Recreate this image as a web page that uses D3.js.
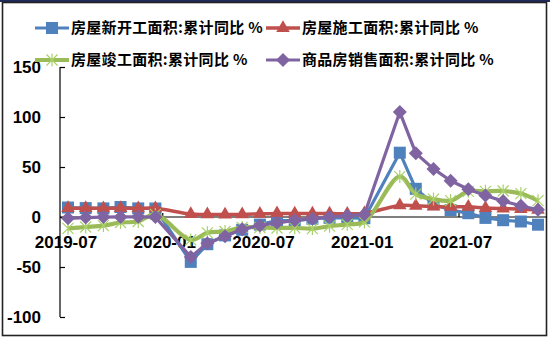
<!DOCTYPE html>
<html>
<head>
<meta charset="utf-8">
<script src="https://cdn.jsdelivr.net/npm/d3@7"></script>
<style>
  body { margin: 0; background: #fff; }
  svg { display: block; }
</style>
</head>
<body>
<svg id="chart" width="550" height="339"></svg>
<script>
// months (January is not published, data is Jan-Feb combined)
var months = ["2019-07", "2019-08", "2019-09", "2019-10", "2019-11", "2019-12",
  "2020-02", "2020-03", "2020-04", "2020-05", "2020-06", "2020-07", "2020-08",
  "2020-09", "2020-10", "2020-11", "2020-12",
  "2021-02", "2021-03", "2021-04", "2021-05", "2021-06", "2021-07", "2021-08",
  "2021-09", "2021-10"];

var newStarts = [9.5, 8.9, 8.6, 10.0, 8.6, 8.5,
  -44.9, -27.2, -18.4, -12.8, -7.6, -3.6, -3.6, -1.7, -0.8, -1.0, -1.2,
  64.3, 28.2, 12.8, 6.9, 3.8, -0.9, -3.2, -4.5, -7.7];
var underConstruction = [8.8, 8.8, 8.7, 9.0, 8.7, 8.7,
  2.9, 2.6, 2.5, 2.6, 3.1, 3.6, 3.4, 3.5, 3.3, 3.2, 3.7,
  11.6, 11.2, 10.5, 10.1, 10.2, 9.0, 8.4, 7.9, 7.1];
var completed = [-11.3, -10.0, -8.6, -5.5, -4.5, 2.6,
  -22.9, -15.8, -14.5, -10.3, -10.5, -11.0, -10.8, -11.6, -9.2, -7.3, -4.9,
  40.4, 22.9, 17.9, 16.4, 25.7, 25.7, 26.0, 23.4, 16.3];
var sales = [-1.3, -0.6, -0.1, 0.1, 0.2, -0.1,
  -39.9, -26.3, -19.3, -12.3, -8.4, -5.8, -3.3, -1.8, 0.0, 1.3, 2.6,
  104.9, 63.8, 48.1, 36.3, 27.7, 21.5, 15.9, 11.3, 7.2];

var seriesNames = ["房屋新开工面积:累计同比 %", "房屋施工面积:累计同比 %",
  "房屋竣工面积:累计同比 %", "商品房销售面积:累计同比 %"];
var xTickLabels = ["2019-07", "2020-01", "2020-07", "2021-01", "2021-07"];
var yTicks = [-100, -50, 0, 50, 100, 150];

var svg = d3.select("#chart");
var parse = d3.timeParse("%Y-%m");

// outer frame
svg.append("rect").attr("x", 0).attr("y", 0).attr("width", 550).attr("height", 2)
  .attr("fill", "#1f2a5a");
svg.append("rect").attr("x", 2.5).attr("y", 2.5).attr("width", 544).attr("height", 333)
  .attr("fill", "none").attr("stroke", "#222").attr("stroke-width", 1.6);

var x = d3.scaleTime()
  .domain([parse("2019-07"), parse("2021-10")])
  .range([68, 538]);
var y = d3.scaleLinear().domain([-100, 150]).range([317, 67]);
var xLabel = d3.scalePoint().domain(xTickLabels).range([66, 461]);

// y axis
var yAxis = svg.append("g").attr("transform", "translate(60,0)")
  .call(d3.axisRight(y).tickValues(yTicks).tickSize(5).tickFormat(""));
yAxis.select(".domain").attr("d", "M0," + y(150) + "V" + y(-100));
yAxis.selectAll("line, path").attr("stroke", "#000").attr("stroke-width", 1.2);

svg.append("g").selectAll("text").data(yTicks).join("text")
  .attr("x", 41).attr("y", function (d) { return y(d); })
  .attr("dy", "0.36em")
  .attr("text-anchor", "end")
  .attr("font-family", "Liberation Sans, Arial, sans-serif")
  .attr("font-weight", "bold").attr("font-size", 17)
  .text(function (d) { return d; });

// x axis at zero
svg.append("line").attr("x1", 60).attr("x2", 547)
  .attr("y1", y(0)).attr("y2", y(0))
  .attr("stroke", "#000").attr("stroke-width", 1.2);
svg.append("g").selectAll("line").data(xTickLabels.slice(1)).join("line")
  .attr("x1", function (d) { return xLabel(d) - 2; })
  .attr("x2", function (d) { return xLabel(d) - 2; })
  .attr("y1", y(0)).attr("y2", y(0) - 4)
  .attr("stroke", "#000").attr("stroke-width", 1.2);
svg.append("g").selectAll("text").data(xTickLabels).join("text")
  .attr("x", function (d) { return xLabel(d); })
  .attr("y", 248)
  .attr("text-anchor", "middle")
  .attr("font-family", "Liberation Sans, Arial, sans-serif")
  .attr("font-weight", "bold").attr("font-size", 17)
  .text(function (d) { return d; });

// series
var series = [
  { values: newStarts, color: "#4f81bd", width: 3.2, curve: d3.curveLinear, marker: "square" },
  { values: underConstruction, color: "#c0504d", width: 3.5, curve: d3.curveCatmullRom, marker: "triangle" },
  { values: completed, color: "#9bbb59", width: 4.2, curve: d3.curveCatmullRom, marker: "star" },
  { values: sales, color: "#8064a2", width: 3.2, curve: d3.curveLinear, marker: "diamond" }
];

function drawMarker(g, type, color) {
  if (type === "square") {
    g.append("rect").attr("x", -6).attr("y", -6).attr("width", 12).attr("height", 12)
      .attr("fill", color);
  } else if (type === "triangle") {
    g.append("path").attr("d", d3.symbol(d3.symbolTriangle, 80)()).attr("fill", color);
  } else if (type === "diamond") {
    g.append("path").attr("d", "M0,-7L7,0L0,7L-7,0Z").attr("fill", color);
  } else if (type === "star") {
    g.append("path").attr("d", "M-5.5,-5.5L5.5,5.5M-5.5,5.5L5.5,-5.5M0,-6.5V6.5")
      .attr("stroke", "#a9d06a").attr("stroke-width", 1.2).attr("fill", "none");
  }
}

series.forEach(function (s) {
  var pts = months.map(function (m, i) { return [x(parse(m)), y(s.values[i])]; });
  svg.append("path")
    .attr("d", d3.line().curve(s.curve)(pts))
    .attr("fill", "none").attr("stroke", s.color)
    .attr("stroke-width", s.width).attr("stroke-linejoin", "round");
  svg.append("g").selectAll("g").data(pts).join("g")
    .attr("transform", function (p) { return "translate(" + p[0] + "," + p[1] + ")"; })
    .each(function () { drawMarker(d3.select(this), s.marker, s.color); });
});

// legend
var legendPos = [[35, 28], [266, 28], [35, 60], [266, 60]];
series.forEach(function (s, i) {
  var g = svg.append("g")
    .attr("transform", "translate(" + legendPos[i][0] + "," + legendPos[i][1] + ")");
  g.append("line").attr("x1", 0).attr("x2", 34).attr("y1", 0).attr("y2", 0)
    .attr("stroke", s.color).attr("stroke-width", s.width);
  drawMarker(g.append("g").attr("transform", "translate(17,0)"), s.marker, s.color);
  g.append("text").attr("x", 36).attr("y", 0).attr("dy", "0.36em")
    .attr("font-family", "Noto Sans CJK SC, sans-serif")
    .attr("font-weight", "bold").attr("font-size", 15)
    .attr("letter-spacing", 0.3)
    .text(seriesNames[i]);
});
</script>
</body>
</html>
